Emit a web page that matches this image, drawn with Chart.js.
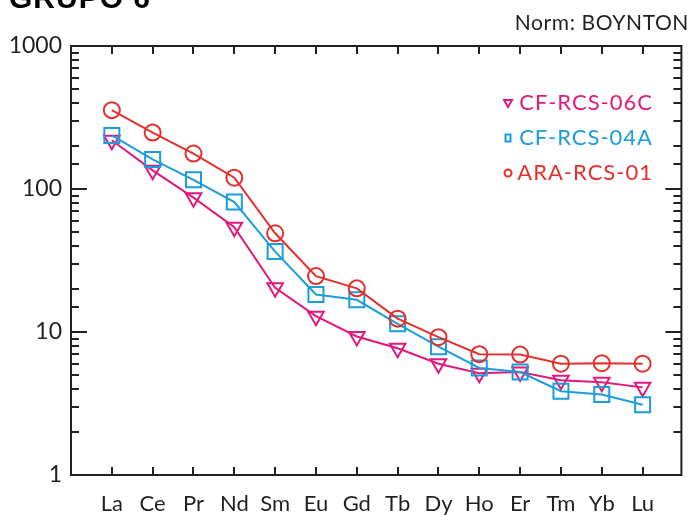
<!DOCTYPE html>
<html>
<head>
<meta charset="utf-8">
<script src="https://cdn.jsdelivr.net/npm/chart.js@4.4.1/dist/chart.umd.min.js"></script>
<style>
  html, body { margin: 0; padding: 0; background: #fff; }
  #wrap { width: 694px; height: 515px; position: relative; }
</style>
</head>
<body>
<div id="wrap"><canvas id="reeChart"></canvas></div>
<script>
// REE labels (x axis), in order
const elements = ['La', 'Ce', 'Pr', 'Nd', 'Sm', 'Eu', 'Gd', 'Tb', 'Dy', 'Ho', 'Er', 'Tm', 'Yb', 'Lu'];

// chondrite normalised values
const cfRcs06C = [219, 135, 87, 54, 20.4, 12.9, 9.3, 7.7, 6.0, 5.15, 5.25, 4.6, 4.45, 4.1];
const cfRcs04A = [237, 161, 116, 81, 36.5, 18.3, 16.8, 11.4, 7.9, 5.6, 5.25, 3.85, 3.65, 3.1];
const araRcs01 = [356, 248, 177, 120, 49, 24.6, 20.2, 12.4, 9.2, 7.0, 6.95, 6.0, 6.05, 6.0];

const yTicks = [1, 10, 100, 1000];

const titleText = 'GRUPO 6';
const normText = 'Norm: BOYNTON';

const INK = '#231f20';
const FONT = 'Lato, "DejaVu Sans", sans-serif';

function toPoints(values) {
  return values.map((v, i) => ({ x: i, y: v }));
}

// frame, inward ticks, legend and texts
const decorations = {
  id: 'decorations',
  afterDatasetsDraw(chart) {
    const ctx = chart.ctx;
    const area = chart.chartArea;
    const xs = chart.scales.x;
    const ys = chart.scales.y;

    ctx.save();
    ctx.strokeStyle = INK;
    ctx.lineWidth = 2;
    ctx.strokeRect(area.left, area.top, area.right - area.left, area.bottom - area.top);

    // y ticks, both sides
    ctx.beginPath();
    ys.ticks.forEach(t => {
      const lg = Math.log10(t.value);
      const major = Math.abs(lg - Math.round(lg)) < 1e-6;
      const len = major ? 16 : 8;
      const py = Math.round(ys.getPixelForValue(t.value));
      ctx.moveTo(area.left, py);
      ctx.lineTo(area.left + len, py);
      ctx.moveTo(area.right, py);
      ctx.lineTo(area.right - len, py);
    });
    // x ticks, top and bottom
    elements.forEach((_, i) => {
      const px = Math.round(xs.getPixelForValue(i));
      ctx.moveTo(px, area.top);
      ctx.lineTo(px, area.top + 8);
      ctx.moveTo(px, area.bottom);
      ctx.lineTo(px, area.bottom - 8);
    });
    ctx.stroke();

    // legend inside the plot
    const legendOrder = [2, 1, 0];
    const rows = [103, 138, 173];
    ctx.font = '22px ' + FONT;
    ctx.letterSpacing = '1px';
    ctx.textBaseline = 'middle';
    ctx.textAlign = 'right';
    legendOrder.forEach((di, k) => {
      const ds = chart.data.datasets[di];
      const y = rows[k];
      ctx.fillStyle = ds.borderColor;
      ctx.fillText(ds.label, 653, y);
      ctx.strokeStyle = ds.borderColor;
      ctx.lineWidth = 2;
      ctx.beginPath();
      const mx = 508;
      if (ds.pointStyle === 'triangle') {
        ctx.moveTo(mx - 4, y - 3);
        ctx.lineTo(mx + 4, y - 3);
        ctx.lineTo(mx, y + 4);
        ctx.closePath();
      } else if (ds.pointStyle === 'rect') {
        ctx.rect(mx - 2.5, y - 3.5, 5, 7);
      } else {
        ctx.arc(mx, y, 3.5, 0, Math.PI * 2);
      }
      ctx.stroke();
    });

    // texts
    ctx.fillStyle = INK;
    ctx.textAlign = 'right';
    ctx.textBaseline = 'alphabetic';
    ctx.font = '21px ' + FONT;
    ctx.letterSpacing = '0.6px';
    ctx.fillText(normText, 689, 30);

    ctx.textAlign = 'left';
    ctx.fillStyle = '#000';
    ctx.letterSpacing = '1px';
    ctx.font = 'bold 30px "Liberation Sans", Arial, sans-serif';
    ctx.fillText(titleText, 9, 8);
    ctx.restore();
  }
};

new Chart(document.getElementById('reeChart'), {
  type: 'line',
  data: {
    datasets: [
      {
        label: 'ARA-RCS-01',
        data: toPoints(araRcs01),
        borderColor: '#e3302c',
        backgroundColor: 'rgba(0,0,0,0)',
        pointStyle: 'circle',
        pointRadius: 8,
        pointBorderWidth: 2,
        borderWidth: 2
      },
      {
        label: 'CF-RCS-04A',
        data: toPoints(cfRcs04A),
        borderColor: '#1b9ddb',
        backgroundColor: 'rgba(0,0,0,0)',
        pointStyle: 'rect',
        pointRadius: 10.6,
        pointBorderWidth: 2,
        borderWidth: 2
      },
      {
        label: 'CF-RCS-06C',
        data: toPoints(cfRcs06C),
        borderColor: '#e01a7d',
        backgroundColor: 'rgba(0,0,0,0)',
        pointStyle: 'triangle',
        pointRotation: 180,
        pointRadius: 9,
        pointBorderWidth: 2,
        borderWidth: 2
      }
    ]
  },
  options: {
    responsive: true,
    maintainAspectRatio: false,
    animation: false,
    layout: { padding: { left: 0, right: 3, top: 46, bottom: 0 } },
    plugins: {
      legend: { display: false },
      tooltip: { enabled: false },
      title: { display: false }
    },
    scales: {
      x: {
        type: 'linear',
        min: -1,
        max: 13.95,
        grid: { display: false, drawTicks: false },
        border: { display: false },
        afterBuildTicks: s => { s.ticks = elements.map((_, i) => ({ value: i })); },
        afterFit: s => { s.height = 40; },
        ticks: {
          autoSkip: false,
          maxRotation: 0,
          padding: 16,
          color: INK,
          font: { family: FONT, size: 22 },
          callback: v => elements[v] || ''
        }
      },
      y: {
        type: 'logarithmic',
        min: 1,
        max: 1000,
        grid: { display: false, drawTicks: false },
        border: { display: false },
        afterFit: s => { s.width = 71; },
        ticks: {
          autoSkip: false,
          padding: 9,
          color: INK,
          font: { family: FONT, size: 23 },
          callback: v => yTicks.includes(v) ? String(v) : ''
        }
      }
    }
  },
  plugins: [decorations]
});
</script>
</body>
</html>
